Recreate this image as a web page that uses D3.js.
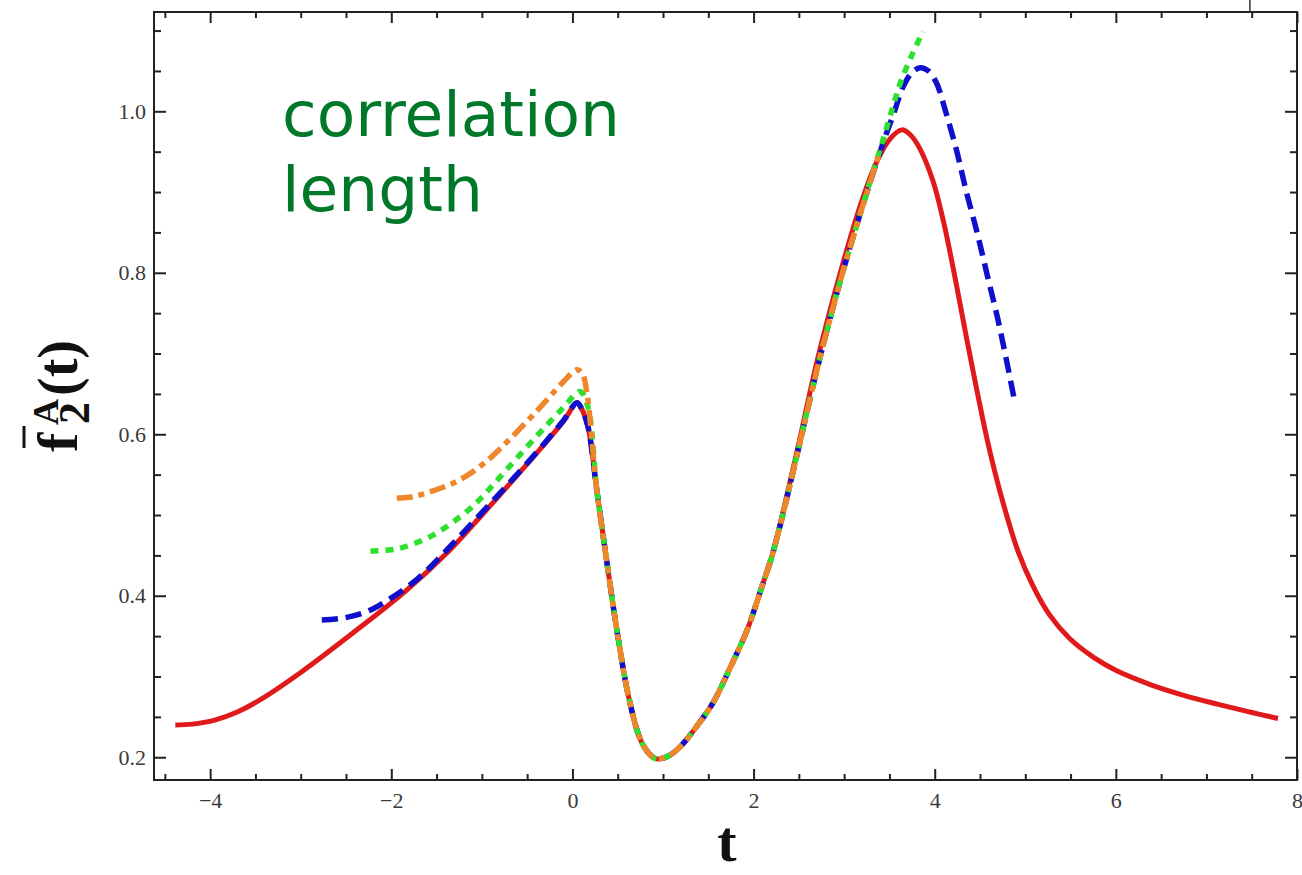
<!DOCTYPE html>
<html lang="en">
<head>
<meta charset="UTF-8">
<title>f2 A correlation length</title>
<script src="https://d3js.org/d3.v7.min.js"></script>
<style>
  body { margin: 0; background: #fff; }
  svg text { font-family: "Liberation Serif", "Times New Roman", serif; }
  .tick text { fill: #3a3a3a; font-size: 22px; }
  .tick line { stroke: #222; stroke-width: 2; }
</style>
</head>
<body>
<div id="chart"></div>
<script>
// t ticks / value ticks
var xMajor = [-4, -2, 0, 2, 4, 6, 8];
var yMajor = [0.2, 0.4, 0.6, 0.8, 1.0];

// dip + rise shared by every curve (they overlap there)
var dip = [[0.27,0.53],[0.38,0.442],[0.49,0.358],[0.62,0.275],[0.75,0.222],[0.85,0.204],[0.93,0.198],
  [1.05,0.201],[1.19,0.213],[1.35,0.235],[1.55,0.267],[1.75,0.313],[1.93,0.358],[2.1,0.414],[2.2,0.448]];

// red, solid
var redHead = [[-4.385,0.240],[-4.2,0.241],[-3.95,0.246],[-3.7,0.256],[-3.45,0.271],[-3.0,0.305],[-2.4,0.356],[-1.83,0.407],
  [-1.35,0.457],[-1.0,0.500],[-0.8,0.525],[-0.4,0.576],[-0.1,0.616],[0.05,0.639],[0.1,0.632],[0.17,0.61]];
var redTail = [[2.3,0.492],[2.5,0.589],[2.7,0.69],[2.95,0.797],[3.18,0.884],[3.35,0.935],[3.5,0.965],[3.636,0.977],
  [3.73,0.971],[3.83,0.955],[3.98,0.914],[4.1,0.862],[4.24,0.785],[4.35,0.72],[4.47,0.652],[4.6,0.583],[4.75,0.517],
  [4.92,0.455],[5.09,0.411],[5.27,0.376],[5.49,0.347],[5.75,0.324],[6.01,0.307],[6.38,0.29],[6.74,0.277],
  [7.11,0.266],[7.48,0.256],[7.79,0.248]];

// blue, dashed
var blueHead = [[-2.767,0.370],[-2.55,0.372],[-2.3,0.379],[-2.09,0.391],[-1.72,0.42],[-1.35,0.461],[-1.0,0.503],
  [-0.8,0.527],[-0.4,0.577],[-0.1,0.617],[0.05,0.639],[0.1,0.632],[0.17,0.61]];
var blueTail = [[2.3,0.49],[2.5,0.584],[2.7,0.68],[2.95,0.787],[3.18,0.874],[3.43,0.961],[3.55,0.998],[3.65,1.03],
  [3.75,1.048],[3.84,1.054],[3.93,1.05],[4.02,1.035],[4.12,1.0],[4.24,0.952],[4.35,0.9],[4.47,0.849],[4.58,0.797],
  [4.69,0.746],[4.79,0.693],[4.886,0.639]];

// green, dotted
var greenHead = [[-2.23,0.455],[-2.0,0.457],[-1.87,0.46],[-1.54,0.475],[-1.16,0.505],[-1.0,0.522],[-0.8,0.547],
  [-0.4,0.597],[-0.1,0.633],[0.085,0.653],[0.17,0.634]];
var greenTail = [[2.3,0.49],[2.5,0.584],[2.7,0.68],[2.95,0.787],[3.18,0.874],[3.43,0.965],[3.55,1.01],[3.62,1.035],
  [3.75,1.07],[3.87,1.099]];

// orange, dash-dot
var orangeHead = [[-1.94,0.521],[-1.8,0.522],[-1.65,0.526],[-1.27,0.542],[-1.0,0.562],[-0.8,0.582],[-0.4,0.628],
  [-0.1,0.665],[0.05,0.68],[0.11,0.675],[0.16,0.651]];
var orangeTail = [[2.3,0.49],[2.5,0.584],[2.7,0.68],[2.95,0.787],[3.18,0.874],[3.40,0.952]];

var series = [
  { name: "red",    color: "#e01a1a", width: 5,   dash: null,         pts: redHead.concat(dip, redTail) },
  { name: "blue",   color: "#1010cc", width: 5.5, dash: "16,8",       pts: blueHead.concat(dip, blueTail) },
  { name: "green",  color: "#2de02d", width: 5.5, dash: "8,7",        pts: greenHead.concat(dip, greenTail) },
  { name: "orange", color: "#f0862a", width: 5.5, dash: "16,6,6,6",   pts: orangeHead.concat(dip, orangeTail) }
];

var W = 1302, H = 875;
var svg = d3.select("#chart").append("svg").attr("width", W).attr("height", H);

var x = d3.scaleLinear().domain([-4.62, 8]).range([154, 1297]);
var y = d3.scaleLinear().domain([0.1718, 1.123]).range([780, 12]);

var xMinor = d3.range(-4.5, 8, 0.5).filter(function(d){ return xMajor.indexOf(d) < 0; });
var yMinor = d3.range(0.2, 1.12, 0.05).map(function(d){ return +d.toFixed(2); })
  .filter(function(d){ return Math.abs(d*10 - Math.round(d*10)) > 0.01 || Math.round(d*10) % 2 === 1; });

function ax(gen, scale, vals, size, labels, pad) {
  var a = gen(scale).tickValues(vals).tickSize(-size).tickPadding(pad || 0);
  if (!labels) a.tickFormat("");
  return a;
}

var axes = svg.append("g");
// bottom
axes.append("g").attr("transform", "translate(0,780)").call(ax(d3.axisBottom, x, xMinor, 6));
axes.append("g").attr("transform", "translate(0,780)").call(ax(d3.axisBottom, x, xMajor, 11, true, 12)
  .tickFormat(d3.format("d")));
// top
axes.append("g").attr("transform", "translate(0,12)").call(ax(d3.axisTop, x, xMinor, 6));
axes.append("g").attr("transform", "translate(0,12)").call(ax(d3.axisTop, x, xMajor, 11));
// left
axes.append("g").attr("transform", "translate(154,0)").call(ax(d3.axisLeft, y, yMinor, 7));
axes.append("g").attr("transform", "translate(154,0)").call(ax(d3.axisLeft, y, yMajor, 12, true, 8)
  .tickFormat(d3.format(".1f")));
// right
axes.append("g").attr("transform", "translate(1297,0)").call(ax(d3.axisRight, y, yMinor, 7));
axes.append("g").attr("transform", "translate(1297,0)").call(ax(d3.axisRight, y, yMajor, 12));
axes.selectAll(".domain").remove();

// frame
svg.append("rect")
  .attr("x", x(-4.62)).attr("y", y(1.123))
  .attr("width", x(8) - x(-4.62)).attr("height", y(0.1718) - y(1.123))
  .attr("fill", "none").attr("stroke", "#222").attr("stroke-width", 2);

// little stray mark above the frame
svg.append("line").attr("x1", x(7.48)).attr("x2", x(7.48)).attr("y1", 0).attr("y2", 12)
  .attr("stroke", "#333").attr("stroke-width", 1.5);

var line = d3.line()
  .x(function(d){ return x(d[0]); })
  .y(function(d){ return y(d[1]); })
  .curve(d3.curveCatmullRom.alpha(0.5));

svg.append("g").selectAll("path")
  .data(series)
  .enter().append("path")
  .attr("d", function(d){ return line(d.pts); })
  .attr("fill", "none")
  .attr("stroke", function(d){ return d.color; })
  .attr("stroke-width", function(d){ return d.width; })
  .attr("stroke-dasharray", function(d){ return d.dash; })
  .attr("stroke-linecap", "butt")
  .attr("stroke-linejoin", "round");

// x title
svg.append("text").attr("x", 727).attr("y", 861).attr("text-anchor", "middle")
  .attr("font-size", 58).attr("font-weight", "bold").attr("fill", "#111").text("t");

// y title: f-bar, sub 2, sup A, (t)
var yl = svg.append("g").attr("transform", "translate(77,462) rotate(-90)")
  .attr("fill", "#111").attr("font-weight", "bold");
yl.append("text").attr("x", 10).attr("y", 0).attr("font-size", 58).text("f");
yl.append("line").attr("x1", 14).attr("x2", 36).attr("y1", -53).attr("y2", -53)
  .attr("stroke", "#111").attr("stroke-width", 3);
yl.append("text").attr("x", 38).attr("y", 12).attr("font-size", 44).text("2");
yl.append("text").attr("x", 37).attr("y", -19).attr("font-size", 36).text("A");
yl.append("text").attr("x", 66).attr("y", 0).attr("font-size", 56).text("(t)");

// annotation
var note = svg.append("text")
  .style("font-family", "'DejaVu Sans', sans-serif").attr("font-size", 63).attr("fill", "#00782a");
note.append("tspan").attr("x", 282).attr("y", 136).text("correlation");
note.append("tspan").attr("x", 282).attr("y", 211).text("length");
</script>
</body>
</html>
